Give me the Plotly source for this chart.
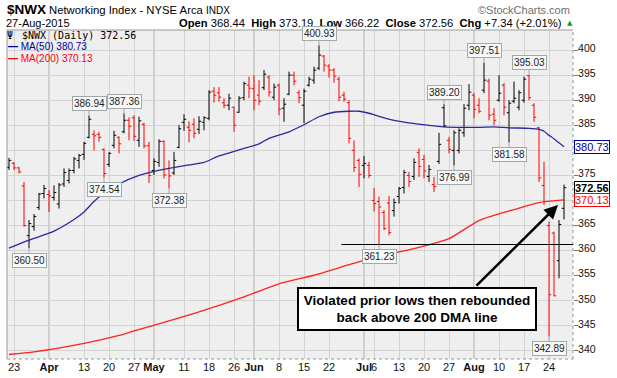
import plotly.graph_objects as go

# ---------------- data ----------------
dates = [
    "2015-03-20", "2015-03-23", "2015-03-24", "2015-03-25", "2015-03-26", "2015-03-27", "2015-03-30", "2015-03-31",
    "2015-04-01", "2015-04-02", "2015-04-06", "2015-04-07", "2015-04-08", "2015-04-09", "2015-04-10", "2015-04-13",
    "2015-04-14", "2015-04-15", "2015-04-16", "2015-04-17", "2015-04-20", "2015-04-21", "2015-04-22", "2015-04-23",
    "2015-04-24", "2015-04-27", "2015-04-28", "2015-04-29", "2015-04-30",
    "2015-05-01", "2015-05-04", "2015-05-05", "2015-05-06", "2015-05-07", "2015-05-08", "2015-05-11", "2015-05-12",
    "2015-05-13", "2015-05-14", "2015-05-15", "2015-05-18", "2015-05-19", "2015-05-20", "2015-05-21", "2015-05-22",
    "2015-05-26", "2015-05-27", "2015-05-28", "2015-05-29",
    "2015-06-01", "2015-06-02", "2015-06-03", "2015-06-04", "2015-06-05", "2015-06-08", "2015-06-09", "2015-06-10",
    "2015-06-11", "2015-06-12", "2015-06-15", "2015-06-16", "2015-06-17", "2015-06-18", "2015-06-19", "2015-06-22",
    "2015-06-23", "2015-06-24", "2015-06-25", "2015-06-26", "2015-06-29", "2015-06-30",
    "2015-07-01", "2015-07-02", "2015-07-06", "2015-07-07", "2015-07-08", "2015-07-09", "2015-07-10", "2015-07-13",
    "2015-07-14", "2015-07-15", "2015-07-16", "2015-07-17", "2015-07-20", "2015-07-21", "2015-07-22", "2015-07-23",
    "2015-07-24", "2015-07-27", "2015-07-28", "2015-07-29", "2015-07-30", "2015-07-31",
    "2015-08-03", "2015-08-04", "2015-08-05", "2015-08-06", "2015-08-07", "2015-08-10", "2015-08-11", "2015-08-12",
    "2015-08-13", "2015-08-14", "2015-08-17", "2015-08-18", "2015-08-19", "2015-08-20", "2015-08-21", "2015-08-24",
    "2015-08-25", "2015-08-26", "2015-08-27",
]

opens = [
    376.6, 377.4, 376.5, 372.9, 363.0, 364.8, 368.6, 371.4,
    371.2, 370.6, 369.3, 373.3, 374.0, 376.0, 378.0, 379.2,
    382.6, 383.2, 383.2, 380.2, 377.2, 381.0, 382.6, 383.7,
    386.0, 386.5, 382.0, 385.2, 380.9,
    376.0, 377.6, 381.8, 376.4, 375.5, 380.6, 385.6, 384.6,
    385.2, 384.2, 385.6, 386.4, 391.8, 391.5, 389.5, 389.0,
    388.6, 387.6, 390.5, 393.0,
    392.3, 391.0, 392.5, 394.6, 390.6, 393.0, 388.4, 391.2,
    395.0, 391.5, 389.0, 393.0, 394.0, 396.4, 398.8, 396.8,
    396.0, 394.2, 391.0, 389.5, 380.0, 378.0,
    377.0, 377.0, 370.0, 369.8, 367.6, 369.5, 368.0, 370.8,
    372.6, 375.0, 374.8, 379.6, 378.2, 374.8, 373.2, 377.8,
    388.5, 382.0, 380.0, 380.0, 383.5, 389.0,
    391.0, 389.0, 392.0, 393.8, 387.2, 390.0, 393.0, 387.5,
    389.8, 388.6, 390.0, 394.9, 389.0, 384.5, 373.0, 365.0,
    363.5, 358.0, 368.44,
]

highs = [
    378.5, 377.7, 376.7, 373.7, 366.1, 367.3, 371.5, 373.1,
    372.1, 373.0, 373.5, 376.4, 376.4, 378.7, 379.3, 381.7,
    386.94, 384.0, 383.7, 380.4, 379.7, 383.9, 382.8, 387.36,
    386.6, 387.0, 386.7, 385.5, 381.7,
    378.4, 382.2, 382.0, 378.0, 379.7, 385.0, 387.2, 385.8,
    386.4, 386.8, 386.8, 392.0, 392.6, 392.6, 390.4, 391.3,
    388.7, 390.8, 393.7, 394.7,
    395.0, 394.0, 396.0, 395.0, 393.3, 393.3, 390.4, 395.7,
    395.7, 392.0, 392.3, 394.7, 396.7, 400.93, 399.0, 397.2,
    396.4, 394.7, 391.7, 390.0, 382.0, 378.4,
    378.9, 377.7, 372.5, 370.8, 368.1, 370.9, 370.4, 372.7,
    376.1, 375.7, 378.4, 380.4, 379.1, 377.1, 374.7, 383.5,
    389.20, 382.7, 384.0, 384.4, 389.2, 393.2,
    391.4, 390.4, 397.51, 394.3, 388.4, 395.0, 393.4, 390.0,
    393.7, 392.0, 394.7, 395.03, 389.4, 384.7, 377.7, 365.8,
    363.8, 366.1, 373.19,
]

lows = [
    376.1, 376.1, 375.4, 364.8, 360.50, 364.0, 368.1, 370.4,
    367.7, 370.0, 368.4, 372.7, 373.4, 375.4, 376.4, 378.1,
    382.4, 380.0, 381.7, 374.54, 376.7, 380.4, 379.4, 383.4,
    382.0, 381.9, 380.7, 380.4, 373.5,
    375.1, 376.7, 374.4, 372.38, 375.1, 380.4, 383.9, 381.6,
    382.4, 383.3, 384.0, 386.0, 389.5, 389.7, 388.4, 388.0,
    383.7, 387.5, 390.0, 390.4,
    388.0, 389.0, 392.0, 390.7, 390.0, 387.0, 385.7, 391.0,
    393.0, 389.4, 385.4, 392.7, 393.3, 396.0, 395.7, 394.5,
    393.5, 389.8, 389.7, 381.4, 375.7, 372.7,
    374.4, 374.5, 367.8, 361.23, 364.1, 363.1, 366.8, 369.4,
    371.4, 372.7, 374.1, 374.7, 374.4, 373.7, 371.7, 377.3,
    384.6, 379.4, 376.99, 379.4, 382.7, 388.0,
    386.4, 387.4, 391.4, 386.0, 385.0, 389.7, 387.0, 381.58,
    389.4, 388.0, 389.5, 390.0, 385.7, 373.7, 369.1, 342.89,
    350.9, 354.5, 366.22,
]

closes = [
    378.0, 376.5, 375.7, 365.0, 365.4, 366.8, 371.3, 372.4,
    370.9, 371.6, 373.1, 375.6, 376.0, 378.3, 379.0, 381.4,
    386.2, 382.9, 382.6, 375.4, 379.4, 383.0, 381.3, 386.0,
    384.8, 382.8, 385.9, 380.9, 375.0,
    377.8, 381.8, 375.1, 374.9, 378.0, 384.3, 386.2, 384.0,
    383.4, 385.8, 386.5, 391.6, 391.0, 390.6, 389.0, 390.4,
    385.0, 390.4, 393.3, 392.4,
    390.0, 389.8, 395.2, 391.6, 392.6, 388.2, 389.2, 395.0,
    393.8, 390.5, 391.8, 394.2, 396.0, 399.0, 397.0, 396.0,
    394.8, 390.6, 390.2, 382.4, 376.6, 375.2,
    377.4, 375.0, 369.4, 368.7, 364.4, 363.6, 369.6, 372.4,
    375.6, 373.8, 377.6, 376.8, 375.9, 376.2, 372.8, 381.2,
    384.9, 380.2, 383.5, 384.0, 388.4, 391.6,
    388.2, 387.8, 394.0, 387.0, 386.0, 391.4, 388.6, 389.4,
    390.4, 391.5, 394.2, 390.5, 386.6, 374.5, 369.8, 351.2,
    351.0, 365.22, 372.56,
]

ma50_dates = [
    "2015-03-20", "2015-03-26", "2015-04-02", "2015-04-09", "2015-04-13", "2015-04-15", "2015-04-17",
    "2015-04-22", "2015-04-28", "2015-05-01", "2015-05-06", "2015-05-12", "2015-05-15", "2015-05-20",
    "2015-05-27", "2015-06-02", "2015-06-04", "2015-06-10", "2015-06-15", "2015-06-18", "2015-06-23",
    "2015-06-26", "2015-06-30", "2015-07-02", "2015-07-07", "2015-07-10", "2015-07-15", "2015-07-21",
    "2015-07-24", "2015-07-30", "2015-08-04", "2015-08-07", "2015-08-12", "2015-08-18", "2015-08-20",
    "2015-08-21", "2015-08-24", "2015-08-25", "2015-08-26", "2015-08-27",
]
ma50_values = [
    360.5, 362.1, 363.9, 366.2, 367.7, 369.8, 371.5,
    373.3, 375.0, 375.8, 376.4, 377.1, 377.6, 378.9,
    380.1, 381.3, 382.4, 383.7, 385.1, 386.7, 387.6,
    387.8, 387.8, 387.4, 386.8, 386.0, 385.5, 385.0,
    384.7, 384.6, 384.6, 384.7, 384.5, 384.4, 384.2,
    383.8, 383.0, 382.3, 381.5, 380.73,
]

ma200_dates = [
    "2015-03-20", "2015-03-27", "2015-04-13", "2015-04-22", "2015-04-27", "2015-05-06", "2015-05-14",
    "2015-05-28", "2015-06-08", "2015-06-17", "2015-06-26", "2015-07-07", "2015-07-16", "2015-07-27",
    "2015-08-04", "2015-08-13", "2015-08-20", "2015-08-27",
]
ma200_values = [
    339.3, 339.8, 341.5, 343.1, 344.0, 346.0, 347.8,
    350.8, 353.4, 355.1, 357.2, 358.9, 360.4, 362.4,
    366.0, 368.2, 369.6, 370.13,
]

tick_dates = [
    "2015-03-23", "2015-04-01", "2015-04-13", "2015-04-20", "2015-04-27", "2015-05-01", "2015-05-11",
    "2015-05-18", "2015-05-26", "2015-06-01", "2015-06-08", "2015-06-15", "2015-06-22", "2015-07-01",
    "2015-07-06", "2015-07-13", "2015-07-20", "2015-07-27", "2015-08-03", "2015-08-10", "2015-08-17",
    "2015-08-24",
]
tick_labels = [
    "23", "<b>Apr</b>", "13", "20", "27", "<b>May</b>", "11",
    "18", "26", "<b>Jun</b>", "8", "15", "22", "<b>Jul</b>",
    "6", "13", "20", "27", "<b>Aug</b>", "10", "17",
    "24",
]
month_starts = ["2015-04-01", "2015-05-01", "2015-06-01", "2015-07-01", "2015-08-03"]

high_callouts = ["2015-04-14", "2015-04-23", "2015-06-18", "2015-07-24", "2015-08-05", "2015-08-18"]
low_callouts = ["2015-03-26", "2015-04-17", "2015-05-06", "2015-07-07", "2015-07-28", "2015-08-12", "2015-08-24"]
support_date = "2015-07-07"

ma50_last = ma50_values[-1]
ma200_last = ma200_values[-1]

# ---------------- styling helpers ----------------
W, H = 617, 378
PL, PT, PW, PH = 7, 30, 566, 329
def fx(px):
    return (px - PL) / PW
def fy(py):
    return (PT + PH - py) / PH

ARIAL = "Liberation Sans, Arial, sans-serif"
BAR_UP = "#000000"
BAR_DN = "#ff0000"
MA50_C = "#2a2a9c"
MA200_C = "#ff2222"

prev_close = [opens[0]] + closes[:-1]
up_mask = [c >= p for c, p in zip(closes, prev_close)]

fig = go.Figure()

def add_bars(mask, color):
    sel = [i for i, m in enumerate(mask) if m]
    fig.add_trace(go.Ohlc(
        x=[dates[i] for i in sel],
        open=[opens[i] for i in sel],
        high=[highs[i] for i in sel],
        low=[lows[i] for i in sel],
        close=[closes[i] for i in sel],
        increasing=dict(line=dict(color=color, width=1)),
        decreasing=dict(line=dict(color=color, width=1)),
        tickwidth=0.45, hoverinfo="skip", showlegend=False,
    ))

fig.add_trace(go.Scatter(x=ma200_dates, y=ma200_values, mode="lines",
                         line=dict(color=MA200_C, width=1.3, shape="spline", smoothing=0.6),
                         hoverinfo="skip", showlegend=False))
fig.add_trace(go.Scatter(x=ma50_dates, y=ma50_values, mode="lines",
                         line=dict(color=MA50_C, width=1.3, shape="spline", smoothing=0.6),
                         hoverinfo="skip", showlegend=False))
add_bars(up_mask, BAR_UP)
add_bars([not m for m in up_mask], BAR_DN)

shapes = []
for d in month_starts:
    shapes.append(dict(type="line", xref="x", yref="paper", x0=d, x1=d, y0=0, y1=1,
                       line=dict(color="#a9a9a9", width=1), layer="below"))
# borders
shapes += [
    dict(type="line", xref="paper", yref="paper", x0=0, x1=0, y0=0, y1=1, line=dict(color="#9a9a9a", width=1)),
    dict(type="line", xref="paper", yref="paper", x0=0, x1=1, y0=1, y1=1, line=dict(color="#9a9a9a", width=1)),
    dict(type="line", xref="paper", yref="paper", x0=1, x1=1, y0=0, y1=1, line=dict(color="#7fa0a0", width=1, dash="dot")),
    dict(type="line", xref="paper", yref="paper", x0=0, x1=1, y0=0, y1=0, line=dict(color="#7fa0a0", width=1, dash="dot")),
]
support = lows[dates.index(support_date)]
shapes.append(dict(type="line", xref="paper", yref="y", x0=fx(341.5), x1=1, y0=support, y1=support,
                   line=dict(color="black", width=1)))

ann = []
# header
ann.append(dict(xref="paper", yref="paper", x=fx(5), y=fy(9.5), xanchor="left", yanchor="middle",
                text="<b>$NWX</b>", font=dict(family=ARIAL, size=13.5, color="#000"), showarrow=False))
ann.append(dict(xref="paper", yref="paper", x=fx(47), y=fy(10), xanchor="left", yanchor="middle",
                text="Networking Index - NYSE Arca <span style='font-size:10px'>INDX</span>",
                font=dict(family=ARIAL, size=11.3, color="#000"), showarrow=False))
ann.append(dict(xref="paper", yref="paper", x=fx(4), y=fy(23.5), xanchor="left", yanchor="middle",
                text="27-Aug-2015", font=dict(family=ARIAL, size=11, color="#000"), showarrow=False))
chg = closes[-1] - closes[-2]
pct = chg / closes[-2] * 100
ann.append(dict(xref="paper", yref="paper", x=fx(564), y=fy(23.5), xanchor="right", yanchor="middle",
                text=(f"<b>Open</b> {opens[-1]:.2f}  <b>High</b> {highs[-1]:.2f}  <b>Low</b> {lows[-1]:.2f}  "
                      f"<b>Close</b> {closes[-1]:.2f}  <b>Chg</b> {chg:+.2f} ({pct:+.2f}%)"),
                font=dict(family=ARIAL, size=11.2, color="#000"), showarrow=False))
ann.append(dict(xref="paper", yref="paper", x=fx(565), y=fy(23.5), xanchor="left", yanchor="middle",
                text="▲", font=dict(family="DejaVu Sans", size=7, color="#1a9a1a"), showarrow=False))
ann.append(dict(xref="paper", yref="paper", x=fx(572), y=fy(10), xanchor="right", yanchor="middle",
                text="©StockCharts.com", font=dict(family=ARIAL, size=11, color="#6e6e6e"), showarrow=False))
# inner legend
ann.append(dict(xref="paper", yref="paper", x=fx(5), y=fy(36), xanchor="left", yanchor="middle",
                text="Ψ", font=dict(family="DejaVu Sans Mono", size=10, color="#000"), showarrow=False))
ann.append(dict(xref="paper", yref="paper", x=fx(20), y=fy(36), xanchor="left", yanchor="middle",
                text=f"$NWX (Daily) {closes[-1]:.2f}", font=dict(family="DejaVu Sans Mono", size=10, color="#000"),
                showarrow=False))
ann.append(dict(xref="paper", yref="paper", x=fx(6), y=fy(47), xanchor="left", yanchor="middle",
                text=f"<b>—</b> MA(50) {ma50_last:.2f}", font=dict(family=ARIAL, size=10, color="#00009a"),
                showarrow=False))
ann.append(dict(xref="paper", yref="paper", x=fx(6), y=fy(58), xanchor="left", yanchor="middle",
                text=f"<b>—</b> MA(200) {ma200_last:.2f}", font=dict(family=ARIAL, size=10, color="#ff0000"),
                showarrow=False))
# price callouts
def callout(d, val, up):
    return dict(x=d, y=val, xref="x", yref="y", text=f"{val:.2f}", showarrow=True,
                ax=0, ay=-12 if up else 12, arrowhead=0, arrowwidth=1, arrowcolor="#a0aaaa", standoff=0,
                font=dict(family=ARIAL, size=10, color="#222"), bgcolor="#f8f8f8",
                bordercolor="#a0aaaa", borderwidth=1, borderpad=1)
for d in high_callouts:
    ann.append(callout(d, highs[dates.index(d)], True))
for d in low_callouts:
    ann.append(callout(d, lows[dates.index(d)], False))
# right edge value tags
def edge_tag(val, color, bold=False):
    t = f"{val:.2f}"
    if bold:
        t = f"<b>{t}</b>"
    return dict(xref="paper", yref="y", x=1, y=val, xanchor="left", yanchor="middle", xshift=1,
                text=t, showarrow=False, font=dict(family=ARIAL, size=11, color=color),
                bgcolor="white", bordercolor=color, borderwidth=1, borderpad=0)
ann.append(edge_tag(ma50_last, "#00009a"))
ann.append(edge_tag(closes[-1], "#000000", bold=True))
ann.append(edge_tag(ma200_last, "#ff0000"))
# comment box and arrow
ann.append(dict(xref="paper", yref="paper", x=fx(417), y=fy(308.5), xanchor="center", yanchor="middle",
                text="<b>Violated prior lows then rebounded<br>back above 200 DMA line</b>",
                font=dict(family=ARIAL, size=13.5, color="#000"),
                showarrow=False, bgcolor="white", bordercolor="black", borderwidth=2, borderpad=1,
                width=234, height=38, align="center"))
ann.append(dict(xref="paper", yref="paper", x=fx(558), y=fy(205), ax=-83, ay=82, text="",
                showarrow=True, arrowhead=2, arrowsize=1.1, arrowwidth=2.5, arrowcolor="black", standoff=0))

fig.update_layout(
    width=W, height=H,
    margin=dict(l=PL, r=W - PL - PW, t=PT, b=H - PT - PH),
    paper_bgcolor="white", plot_bgcolor="#efefef",
    showlegend=False,
    font=dict(family=ARIAL, size=11, color="#111"),
    shapes=shapes, annotations=ann,
    xaxis=dict(type="category", categoryorder="array", categoryarray=dates,
               range=[-0.4, 112.8], tickvals=tick_dates, ticktext=tick_labels, tickangle=0,
               showgrid=True, gridcolor="#d3d3d3", gridwidth=1, ticks="", showline=False,
               zeroline=False, rangeslider=dict(visible=False), automargin=False,
               tickfont=dict(family=ARIAL, size=11, color="#111")),
    yaxis=dict(side="right", range=[338.4, 404.0], tick0=340, dtick=5, showgrid=True,
               gridcolor="#d3d3d3", gridwidth=1, ticks="outside", ticklen=4, tickcolor="#777",
               zeroline=False, showline=False, automargin=False,
               ticklabelstandoff=-2, ticklabelshift=-2,
               tickfont=dict(family=ARIAL, size=10.5, color="#111")),
)

fig.write_html("out.html", config={"displayModeBar": False, "staticPlot": True},
               post_script="document.body.style.margin='0px';document.body.style.padding='0px';")
